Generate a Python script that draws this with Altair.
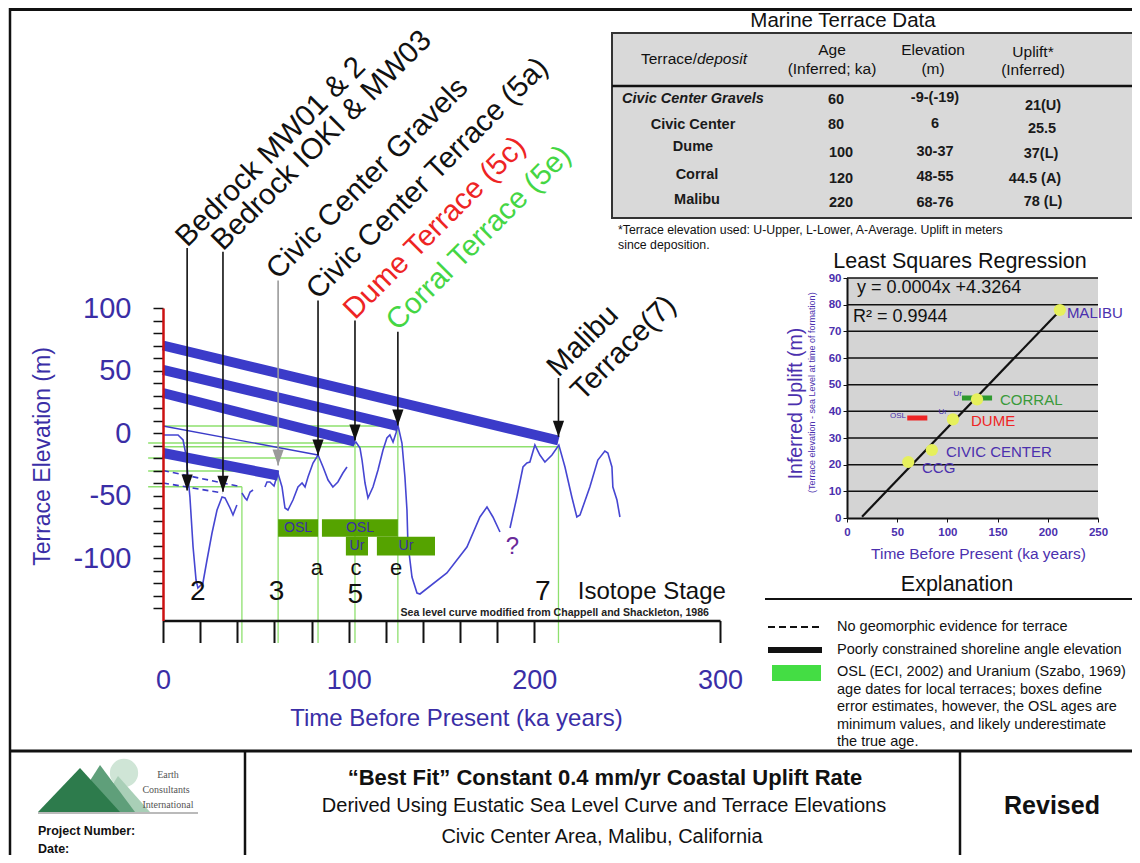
import altair as alt
import pandas as pd

FONT = "Liberation Sans"
W, H = 1124, 847

BLUE_TXT = "#3a2ea6"
CURVE = "#4646d2"
THICK = "#3b3bc9"
LGREEN = "#8ee06e"
BOXG = "#55a300"
PURPLE = "#4b30ae"
RED = "#ee2424"
GREEN_TXT = "#44d644"

# ---------------- sea-level curve (ka, m) ----------------
seaA_ka = [0, 8.1, 10.8, 12.4, 14.5, 16.2, 17.8, 18.8, 21.5, 23.7, 26.4, 29.1, 31.8, 33.4, 36.1, 37.7, 39.8]
seaA_m = [-1.6, -1.6, -5.6, -17.6, -51.2, -91.2, -117.6, -124, -120, -101.6, -80, -61.6, -51.2, -52, -60, -65.6, -57.6]
seaB_ka = [42.5, 44.2, 45.2, 46.9, 48.5]
seaB_m = [-48, -52, -53.6, -47.2, -45.6]
seaC_ka = [54.9, 56.0, 57.6, 59.8, 61.9, 64.1, 65.7, 67.3, 70.0, 72.7, 74.9, 76.5, 78.1, 80.8, 83.5, 86.2, 88.9, 91.5, 94.2, 96.9, 99.1]
seaC_m = [-43.2, -39.2, -39.2, -42.4, -32, -43.2, -60, -61.6, -53.6, -43.2, -40, -43.2, -35.2, -24, -17.6, -27.2, -37.6, -43.2, -39.2, -32, -27.2]
seaD_ka = [102.3, 103.9, 106.1, 107.2, 108.8, 110.4, 113.1, 115.8, 118.5, 120.6, 122.2, 123.9, 125.5, 126.5, 128.7, 130.3, 131.4, 131.9, 134.1, 136.8, 138.4, 152.9, 163.7, 170.7, 174.5, 177.7, 181.5]
seaD_m = [-9.6, -7.2, -12, -21.6, -40, -52, -43.2, -29.6, -13.6, -4, -1.6, -7.2, 0, 6.4, -8, -35.2, -61.6, -88, -115.2, -128, -128.8, -112, -91.2, -67.2, -59.2, -67.2, -79.2]
seaE_ka = [186.9, 190.6, 193.9, 196.0, 197.6, 200.3, 203.0, 205.7, 209.5, 213.2, 216.5, 220.2, 222.9, 224.6, 229.9, 234.2, 238.0, 239.6, 241.8, 242.3, 244.5, 246.1]
seaE_m = [-76, -51.2, -27.2, -24, -23.2, -9.6, -17.6, -23.2, -17.6, -9.6, -27.2, -51.2, -67.2, -65.6, -43.2, -21.6, -14.4, -16, -27.2, -43.2, -53.6, -67.2]

# ---------------- terrace uplift lines ----------------
terrace_names = ["Malibu", "Corral", "Dume", "Civic Center Gravels"]
terrace_present_m = [70, 50.5, 32, -16]
terrace_age = [213, 126.5, 103.4, 62]
terrace_sea_m = [-6, 5.5, -7, -34]
cc_present_m, cc_age, cc_sea_m = 5.6, 83.5, -17.6
dash_present_m = [-30, -40]
dash_age = [42, 32]
dash_sea_m = [-43, -48]

# green guide lines
guide_age = [126.5, 103.4, 213, 83.5, 62, 42.5]
guide_m = [5.6, -8, -11, -20, -30.4, -43]
guide_start = [0, -8, 0, -8, -8, -8]
guide_bottom = -168

# arrows and labels
arrow_label = ["Bedrock MW01 & 2", "Bedrock IOKI & MW03", "Civic Center Gravels",
               "Civic Center Terrace (5a)", "Dume Terrace (5c)", "Corral Terrace (5e)",
               "Malibu\nTerrace(7)"]
arrow_age = [13.0, 32.3, 62, 83.5, 103.4, 126.5, 213]
arrow_top = [148, 145, 122, 106, 90, 81, 44]
arrow_tip = [-46, -47, -26, -18, -6, 6, -3]
arrow_color = ["#111111", "#111111", "#9a9a9a", "#111111", "#111111", "#111111", "#111111"]
label_color = ["#111111", "#111111", "#111111", "#111111", RED, GREEN_TXT, "#111111"]

# dating boxes (OSL / Uranium)
box_label = ["OSL", "OSL", "Ur", "Ur"]
box_min = [62, 85.6, 98.5, 115.2]
box_max = [83.5, 126.5, 110.4, 146.5]
box_top = [-69, -69, -83, -83]
box_bot = [-83, -83, -98, -98]

# stage annotations
stage_text = ["2", "3", "5", "7"]
stage_age = [18.8, 61.2, 103.6, 204.6]
stage_m = [-127.5, -127.5, -129.5, -127.2]
sub_text = ["a", "c", "e"]
sub_age = [82.9, 103.9, 125.5]
sub_m = [-108, -108, -108]

# ---------------- regression panel ----------------
reg_names = ["CCG", "CIVIC CENTER", "DUME", "CORRAL", "MALIBU"]
reg_age = [61, 84.5, 105.5, 129.5, 212]
reg_uplift = [21, 25.5, 37, 44.5, 78]
reg_label_color = [PURPLE, PURPLE, RED, "#3a9a3a", PURPLE]
reg_label_age = [74.7, 98.6, 123.5, 152.4, 219]
reg_label_up = [18.7, 24.7, 36.4, 44.2, 76.9]
fit_age = [15, 210]
fit_uplift = [0.5, 77]
bar_lo = [60, 100.5, 114.5]
bar_hi = [80, 110.5, 144.5]
bar_up = [37.5, 37.5, 45]
bar_color = [RED, RED, "#2f9a2f"]
bar_tag = ["OSL", "Ur", "Ur"]
bar_tag_age = [58.8, 99.6, 114.5]
bar_tag_up = [38.3, 39.8, 46.6]

# ---------------- table ----------------
tbl_terrace = ["Civic Center Gravels", "Civic Center", "Dume", "Corral", "Malibu"]
tbl_age = ["60", "80", "100", "120", "220"]
tbl_elev = ["-9-(-19)", "6", "30-37", "48-55", "68-76"]
tbl_uplift = ["21(U)", "25.5", "37(L)", "44.5 (A)", "78 (L)"]

# ================= scales =================
XM = alt.Scale(domain=[0, 300], range=[155, 712], nice=False, zero=False)
YM = alt.Scale(domain=[-150, 100], range=[612.5, 300], nice=False, zero=False)
XR = alt.Scale(domain=[0, 250], range=[839, 1090], nice=False, zero=False)
YR = alt.Scale(domain=[0, 90], range=[510, 270], nice=False, zero=False)
XP = alt.Scale(domain=[8, 8 + W], range=[0, W], nice=False, zero=False)
YP = alt.Scale(domain=[8, 8 + H], range=[0, H], nice=False, zero=False)


def rules(df, xs, ys, **kw):
    return alt.Chart(df).mark_rule(**kw).encode(
        x=alt.X("x:Q", scale=xs, axis=None), x2="x2:Q",
        y=alt.Y("y:Q", scale=ys, axis=None), y2="y2:Q",
        strokeWidth=alt.StrokeWidth("w:Q", scale=None, legend=None),
        color=alt.Color("c:N", scale=None, legend=None))


def texts(df, xs, ys, **kw):
    kw.setdefault("font", FONT)
    return alt.Chart(df).mark_text(**kw).encode(
        x=alt.X("x:Q", scale=xs, axis=None),
        y=alt.Y("y:Q", scale=ys, axis=None),
        text="t:N",
        size=alt.Size("s:Q", scale=None, legend=None),
        color=alt.Color("c:N", scale=None, legend=None))


# ================= main chart =================
seg_rows = []
for name, kas, ms in [("A", seaA_ka, seaA_m), ("B", seaB_ka, seaB_m), ("C", seaC_ka, seaC_m),
                      ("D", seaD_ka, seaD_m), ("E", seaE_ka, seaE_m)]:
    for i, (k, m) in enumerate(zip(kas, ms)):
        seg_rows.append({"seg": name, "i": i, "ka": k, "m": m})
sea_df = pd.DataFrame(seg_rows)

x_axis_main = alt.Axis(
    orient="bottom", offset=612.5 - H, values=list(range(0, 201, 20)) + [300],
    labelExpr="datum.value % 100 == 0 ? datum.label : ''", labelOverlap=False, labelFlush=False,
    tickSize=22, tickWidth=2, tickColor="#111", domainColor="#111", domainWidth=2.5,
    labelFont=FONT, labelFontSize=27, labelColor=BLUE_TXT, labelPadding=25,
    title="Time Before Present (ka years)", titleFont=FONT, titleFontSize=24,
    titleFontWeight="normal", titleColor=BLUE_TXT, titleX=448, titleY=97.5,
    titleAlign="center", titleBaseline="middle", grid=False, zindex=1)
y_axis_main = alt.Axis(
    orient="left", offset=-155, values=list(range(-140, 101, 10)),
    labelExpr="datum.value % 50 == 0 ? toString(datum.value) : ''", labelOverlap=False, labelFlush=False,
    tickSize=10, tickWidth=1.5, tickColor="#111", domainColor="#cc1111", domainWidth=2.5,
    labelFont=FONT, labelFontSize=29, labelColor=BLUE_TXT, labelPadding=22,
    title="Terrace Elevation (m)", titleFont=FONT, titleFontSize=23, titleFontWeight="normal",
    titleColor=BLUE_TXT, titleX=-121, titleY=448, titleAngle=270, titleAlign="center",
    titleBaseline="middle", grid=False, zindex=1)

curve = alt.Chart(sea_df).mark_line(color=CURVE, strokeWidth=1.6).encode(
    x=alt.X("ka:Q", scale=XM, axis=x_axis_main),
    y=alt.Y("m:Q", scale=YM, axis=y_axis_main),
    detail="seg:N", order="i:Q")

g_h = pd.DataFrame({"x": guide_start, "x2": guide_age, "y": guide_m, "y2": guide_m,
                    "w": 1.3, "c": LGREEN})
g_v = pd.DataFrame({"x": guide_age, "x2": guide_age, "y": guide_m,
                    "y2": [guide_bottom] * len(guide_age), "w": 1.3, "c": LGREEN})
guides = rules(pd.concat([g_h, g_v]), XM, YM)

thick_df = pd.DataFrame({"x": [0] * 4, "x2": terrace_age, "y": terrace_present_m,
                         "y2": terrace_sea_m, "w": 10, "c": THICK})
thick = rules(thick_df, XM, YM, strokeCap="butt")
thin = rules(pd.DataFrame({"x": [0], "x2": [cc_age], "y": [cc_present_m], "y2": [cc_sea_m],
                           "w": [1.3], "c": [THICK]}), XM, YM)
dashed = rules(pd.DataFrame({"x": [0, 0], "x2": dash_age, "y": dash_present_m, "y2": dash_sea_m,
                             "w": 1.6, "c": THICK}), XM, YM, strokeDash=[6, 4])

box_df = pd.DataFrame({"lab": box_label, "x": box_min, "x2": box_max, "y": box_top, "y2": box_bot})
boxes = alt.Chart(box_df).mark_rect(color=BOXG).encode(
    x=alt.X("x:Q", scale=XM, axis=None), x2="x2:Q",
    y=alt.Y("y:Q", scale=YM, axis=None), y2="y2:Q")
box_txt = alt.Chart(box_df).mark_text(font=FONT, fontSize=14, color=BLUE_TXT).encode(
    x=alt.X("xm:Q", scale=XM, axis=None), y=alt.Y("ym:Q", scale=YM, axis=None), text="lab:N"
).transform_calculate(xm="(datum.x + datum.x2) / 2", ym="(datum.y + datum.y2) / 2")

arr_df = pd.DataFrame({"x": arrow_age, "x2": arrow_age, "y": arrow_top, "y2": arrow_tip,
                       "w": 1.6, "c": arrow_color, "t": arrow_label, "lc": label_color})
arrows = rules(arr_df, XM, YM)
heads = alt.Chart(arr_df).mark_point(shape="M-0.7,-2 L0.7,-2 L0,0 Z", filled=True, size=256,
                                      opacity=1).encode(
    x=alt.X("x:Q", scale=XM, axis=None), y=alt.Y("y2:Q", scale=YM, axis=None),
    color=alt.Color("c:N", scale=None, legend=None))
labels = alt.Chart(arr_df).mark_text(font=FONT, fontSize=29.5, angle=315, align="left",
                                      baseline="alphabetic", lineBreak="\n", lineHeight=34).encode(
    x=alt.X("x:Q", scale=XM, axis=None), y=alt.Y("y:Q", scale=YM, axis=None),
    text="t:N", color=alt.Color("lc:N", scale=None, legend=None))

ann_df = pd.DataFrame({
    "x": stage_age + sub_age + [263.3, 188.2],
    "y": stage_m + sub_m + [-127.2, -91.2],
    "t": stage_text + sub_text + ["Isotope Stage", "?"],
    "s": [28] * 4 + [22] * 3 + [24, 24],
    "c": ["#111"] * 8 + ["#6a2a9a"]})
ann = texts(ann_df, XM, YM, baseline="middle", align="center")
src = texts(pd.DataFrame({"x": [211], "y": [-144],
                          "t": ["Sea level curve modified from Chappell and Shackleton, 1986"],
                          "s": [10.6], "c": ["#222"]}), XM, YM, fontWeight="bold", baseline="middle")

main_layers = [guides, curve, thick, thin, dashed, boxes, box_txt, arrows, heads, labels, ann, src]

# ================= regression chart =================
x_axis_reg = alt.Axis(
    orient="bottom", offset=510 - H, values=[0, 50, 100, 150, 200, 250], tickSize=4,
    tickColor="#111", domainColor="#111", domainWidth=2, labelFont=FONT, labelFontSize=11.5,
    labelFontWeight="bold", labelColor=PURPLE, labelPadding=4, labelFlush=False,
    title="Time Before Present (ka years)", titleFont=FONT, titleFontSize=15.5,
    titleFontWeight="normal", titleColor=PURPLE, titleX=970, titleY=35,
    titleAlign="center", titleBaseline="middle", grid=False, zindex=1)
y_axis_reg = alt.Axis(
    orient="left", offset=-839, values=list(range(0, 91, 10)), tickSize=4, tickColor="#111",
    domainColor="#111", domainWidth=2, labelFont=FONT, labelFontSize=11.5, labelFontWeight="bold",
    labelColor=PURPLE, labelPadding=2, labelFlush=False,
    title="Inferred Uplift (m)", titleFont=FONT, titleFontSize=19.5, titleFontWeight="normal",
    titleColor=PURPLE, titleX=-52, titleY=395, titleAngle=270, titleAlign="center",
    titleBaseline="middle", grid=False, zindex=1)

reg_bg = alt.Chart(pd.DataFrame({"x": [0], "x2": [250], "y": [0], "y2": [90]})).mark_rect(
    color="#d4d4d4").encode(
    x=alt.X("x:Q", scale=XR, axis=x_axis_reg), x2="x2:Q",
    y=alt.Y("y:Q", scale=YR, axis=y_axis_reg), y2="y2:Q")
grid_vals = list(range(10, 91, 10))
reg_grid = rules(pd.DataFrame({"x": [0] * 9, "x2": [250] * 9, "y": grid_vals, "y2": grid_vals,
                               "w": 1.5, "c": "#111"}), XR, YR)
reg_fit = alt.Chart(pd.DataFrame({"a": fit_age, "u": fit_uplift})).mark_line(
    color="#111", strokeWidth=2.2).encode(
    x=alt.X("a:Q", scale=XR, axis=None), y=alt.Y("u:Q", scale=YR, axis=None))
reg_bars = rules(pd.DataFrame({"x": bar_lo, "x2": bar_hi, "y": bar_up, "y2": bar_up,
                               "w": 5, "c": bar_color}), XR, YR, strokeCap="butt")
reg_pts = alt.Chart(pd.DataFrame({"a": reg_age, "u": reg_uplift})).mark_circle(
    color="#e6f05c", size=150, opacity=1).encode(
    x=alt.X("a:Q", scale=XR, axis=None), y=alt.Y("u:Q", scale=YR, axis=None))
reg_lab = texts(pd.DataFrame({"x": reg_label_age, "y": reg_label_up, "t": reg_names,
                              "s": 15, "c": reg_label_color}), XR, YR, align="left",
                baseline="middle")
reg_tags = texts(pd.DataFrame({"x": bar_tag_age, "y": bar_tag_up, "t": bar_tag, "s": 8,
                               "c": PURPLE}), XR, YR, align="right", baseline="middle")
reg_eq = texts(pd.DataFrame({"x": [10, 6], "y": [86.2, 75.4],
                             "t": ["y = 0.0004x +4.3264", "R\u00b2 = 0.9944"],
                             "s": 18, "c": "#111"}), XR, YR, align="left", baseline="middle")
reg_sub = alt.Chart(pd.DataFrame({"x": [-35], "y": [47],
                                  "t": ["(Terrace elevation - sea Level at time of formation)"]})
                    ).mark_text(font=FONT, fontSize=9, angle=270, color=PURPLE).encode(
    x=alt.X("x:Q", scale=XR, axis=None), y=alt.Y("y:Q", scale=YR, axis=None), text="t:N")

reg_layers = [reg_bg, reg_grid, reg_fit, reg_bars, reg_pts, reg_lab, reg_tags, reg_eq, reg_sub]

# ================= page furniture (frame, table, explanation, title block) =================
frame = rules(pd.DataFrame({
    "x": [10, 10, 10, 245, 960, 765, 612],
    "y": [9.5, 8, 751, 751, 751, 599, 86],
    "x2": [1140, 10, 1140, 245, 960, 1140, 1150],
    "y2": [9.5, 863, 751, 863, 863, 599, 86],
    "w": [3, 2.5, 3, 2.5, 2.5, 2, 2.5], "c": "#111"}), XP, YP)
table_box = alt.Chart(pd.DataFrame({"x": [612], "x2": [1150], "y": [33], "y2": [218]})).mark_rect(
    fill="#d9d9d9", stroke="#333", strokeWidth=2).encode(
    x=alt.X("x:Q", scale=XP, axis=None), x2="x2:Q",
    y=alt.Y("y:Q", scale=YP, axis=None), y2="y2:Q")

leg_dash = rules(pd.DataFrame({"x": [768], "x2": [822], "y": [627], "y2": [627], "w": [2],
                               "c": ["#111"]}), XP, YP, strokeDash=[7, 4])
leg_solid = rules(pd.DataFrame({"x": [768], "x2": [822], "y": [650], "y2": [650], "w": [6],
                                "c": ["#111"]}), XP, YP, strokeCap="butt")
leg_box = alt.Chart(pd.DataFrame({"x": [772], "x2": [821], "y": [665], "y2": [681]})).mark_rect(
    color="#44dd44").encode(
    x=alt.X("x:Q", scale=XP, axis=None), x2="x2:Q",
    y=alt.Y("y:Q", scale=YP, axis=None), y2="y2:Q")

# logo
logo_circle = alt.Chart(pd.DataFrame({"x": [124], "y": [773]})).mark_circle(
    color="#cfe5d6", size=800, opacity=1).encode(
    x=alt.X("x:Q", scale=XP, axis=None), y=alt.Y("y:Q", scale=YP, axis=None))
tri = pd.DataFrame({
    "k": ["c", "c", "c", "b", "b", "b", "a", "a", "a"],
    "x": [95, 118, 150, 70, 100, 135, 38, 80, 120],
    "y": [812, 776, 812, 812, 765, 812, 812, 768, 812],
    "y2": [812] * 9,
    "c": ["#a9cfb7"] * 3 + ["#5f9f7a"] * 3 + ["#2d7b4c"] * 3})
logo_tri = alt.Chart(tri).mark_area(opacity=1).encode(
    x=alt.X("x:Q", scale=XP, axis=None), y=alt.Y("y:Q", scale=YP, axis=None, stack=None),
    y2="y2:Q", detail="k:N", color=alt.Color("c:N", scale=None, legend=None))
logo_line = rules(pd.DataFrame({"x": [38], "x2": [198], "y": [813], "y2": [813], "w": [1.2],
                                "c": ["#777"]}), XP, YP)
logo_txt = texts(pd.DataFrame({"x": [168, 166, 168], "y": [775, 790, 805],
                               "t": ["Earth", "Consultants", "International"],
                               "s": 10, "c": "#555"}), XP, YP, font="Liberation Serif",
                 baseline="middle")

c_norm = texts(pd.DataFrame({
    "x": [843, 832, 832, 933, 933, 1033, 1033, 960, 957, 604, 602],
    "y": [21, 50, 69, 50, 69, 52, 70, 262, 585, 806, 837],
    "t": ["Marine Terrace Data", "Age", "(Inferred; ka)", "Elevation", "(m)", "Uplift*",
          "(Inferred)", "Least Squares Regression", "Explanation",
          "Derived Using Eustatic Sea Level Curve and Terrace Elevations",
          "Civic Center Area, Malibu, California"],
    "s": [20.5, 15.5, 15.5, 15.5, 15.5, 15.5, 15.5, 21.5, 21.5, 20, 20],
    "c": "#111"}), XP, YP, baseline="middle")
c_bold = texts(pd.DataFrame({
    "x": [605, 1052],
    "y": [778, 806],
    "t": ["\u201cBest Fit\u201d Constant 0.4 mm/yr Coastal Uplift Rate", "Revised"],
    "s": [22, 25], "c": "#111"}), XP, YP, baseline="middle", fontWeight="bold")

tbl_x = [693, 693, 693, 697, 697] + [836, 836, 841, 841, 841] + [935] * 5 + [1043, 1042, 1041, 1035, 1043]
tbl_y = [99, 125, 147, 175, 200] + [100, 125, 153, 179, 203] + [98, 124, 152, 177, 203] + [106, 129, 154, 179, 202]
tbl_t = tbl_terrace + tbl_age + tbl_elev + tbl_uplift
tbl_df = pd.DataFrame({"x": tbl_x, "y": tbl_y, "t": tbl_t, "s": 14.5, "c": "#1a1a1a"})
tbl_first = texts(tbl_df.iloc[:1], XP, YP, baseline="middle", fontWeight="bold", fontStyle="italic")
tbl_rest = texts(tbl_df.iloc[1:], XP, YP, baseline="middle", fontWeight="bold")
hdr_a = texts(pd.DataFrame({"x": [641], "y": [59], "t": ["Terrace/"], "s": [15.5], "c": ["#111"]}),
              XP, YP, align="left", baseline="middle")
hdr_b = texts(pd.DataFrame({"x": [697], "y": [59], "t": ["deposit"], "s": [15.5], "c": ["#111"]}),
              XP, YP, align="left", baseline="middle", fontStyle="italic")

l_norm = texts(pd.DataFrame({
    "x": [618, 618, 837, 837, 837, 837, 837, 837, 837],
    "y": [230, 245, 627, 650, 672, 690, 707, 725, 742],
    "t": ["*Terrace elevation used: U-Upper, L-Lower, A-Average. Uplift in meters",
          "since deposition.",
          "No geomorphic evidence for terrace",
          "Poorly constrained shoreline angle elevation",
          "OSL (ECI, 2002) and Uranium (Szabo, 1969)",
          "age dates for local terraces; boxes define",
          "error estimates, however, the OSL ages are",
          "minimum values, and likely underestimate",
          "the true age."],
    "s": [12.3, 12.3, 14.5, 14.5, 14.5, 14.5, 14.5, 14.5, 14.5],
    "c": "#111"}), XP, YP, align="left", baseline="middle")
l_bold = texts(pd.DataFrame({"x": [38, 38], "y": [831, 849], "t": ["Project Number:", "Date:"],
                             "s": 12.5, "c": "#111"}), XP, YP, align="left", baseline="middle",
               fontWeight="bold")

page_layers = [table_box, frame, leg_dash, leg_solid, leg_box, logo_circle, logo_tri, logo_line,
               logo_txt, c_norm, c_bold, tbl_first, tbl_rest, hdr_a, hdr_b, l_norm, l_bold]

# every layer carries explicit scales, so independent scales still map identically
chart = alt.layer(*page_layers, *main_layers, *reg_layers).resolve_scale(
    x="independent", y="independent").properties(
    width=W, height=H, padding=0, autosize=alt.AutoSizeParams(type="none"),
    background="white").configure_view(stroke=None)

chart.save("out.html", embed_options={"renderer": "svg", "actions": False})
